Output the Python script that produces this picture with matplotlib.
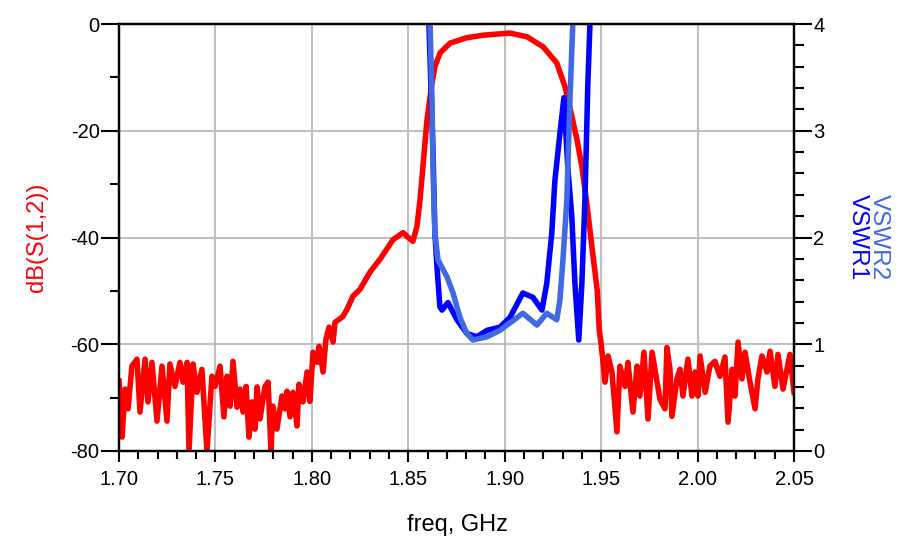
import matplotlib
matplotlib.use("Agg")
import matplotlib.pyplot as plt
from matplotlib.ticker import MultipleLocator

plt.rcParams['font.family'] = ['Liberation Sans', 'DejaVu Sans']

# ---- data: dB(S(1,2)) ----
s12_freq = [
    1.7000, 1.7016, 1.7031, 1.7047, 1.7067, 1.7093, 1.7109, 1.7135, 1.7150, 1.7171,
    1.7197, 1.7223, 1.7249, 1.7264, 1.7290, 1.7316, 1.7332, 1.7353, 1.7363, 1.7384,
    1.7404, 1.7430, 1.7456, 1.7482, 1.7498, 1.7524, 1.7544, 1.7560, 1.7576, 1.7591,
    1.7612, 1.7627, 1.7643, 1.7659, 1.7674, 1.7690, 1.7705, 1.7716, 1.7731, 1.7757,
    1.7773, 1.7788, 1.7798, 1.7819, 1.7845, 1.7861, 1.7871, 1.7887, 1.7902, 1.7923,
    1.7933, 1.7954, 1.7975, 1.7990, 1.8006, 1.8027, 1.8037, 1.8058, 1.8073, 1.8089,
    1.8110, 1.8120, 1.8161, 1.8182, 1.8213, 1.8250, 1.8301, 1.8353, 1.8421, 1.8473,
    1.8500, 1.8524, 1.8545, 1.8561, 1.8580, 1.8597, 1.8620, 1.8638, 1.8665, 1.8716,
    1.8800, 1.8888, 1.9027, 1.9116, 1.9200, 1.9270, 1.9313, 1.9340, 1.9375, 1.9400,
    1.9427, 1.9453, 1.9480, 1.9490, 1.9500, 1.9510, 1.9520, 1.9536, 1.9556, 1.9582,
    1.9597, 1.9624, 1.9639, 1.9665, 1.9686, 1.9701, 1.9722, 1.9743, 1.9764, 1.9779,
    1.9805, 1.9831, 1.9841, 1.9857, 1.9867, 1.9893, 1.9909, 1.9924, 1.9950, 1.9971,
    1.9987, 2.0002, 2.0013, 2.0039, 2.0064, 2.0090, 2.0116, 2.0142, 2.0158, 2.0179,
    2.0194, 2.0210, 2.0230, 2.0246, 2.0272, 2.0298, 2.0313, 2.0334, 2.0360, 2.0376,
    2.0401, 2.0417, 2.0443, 2.0479, 2.0500,
]
s12_db = [
    -66.9, -77.4, -68.4, -72.1, -64.1, -62.8, -72.7, -62.8, -70.8, -63.4,
    -74.4, -64.1, -74.4, -63.7, -67.9, -63.4, -67.1, -63.4, -80.0, -63.7,
    -69.0, -64.7, -80.0, -66.0, -67.9, -64.1, -73.6, -66.0, -71.6, -63.2,
    -71.8, -68.4, -72.7, -67.9, -77.4, -70.8, -75.9, -68.0, -74.0, -67.9,
    -67.1, -80.0, -71.6, -75.9, -69.7, -72.1, -68.8, -73.6, -69.0, -75.3,
    -67.5, -70.8, -65.2, -70.7, -61.5, -63.4, -60.4, -65.2, -59.1, -56.8,
    -59.6, -55.9, -54.8, -53.5, -51.0, -49.7, -46.5, -44.1, -40.4, -39.1,
    -40.0, -40.7, -37.9, -32.9, -25.0, -18.0, -11.8, -8.0, -5.4, -3.6,
    -2.6, -2.1, -1.7, -2.4, -4.3, -7.3, -11.8, -16.0, -21.7, -26.7,
    -34.0, -42.0, -50.0, -57.2, -60.0, -63.4, -67.1, -62.2, -65.2, -76.4,
    -64.1, -67.9, -63.4, -72.7, -64.1, -69.7, -61.5, -74.0, -61.5, -64.7,
    -70.3, -72.1, -60.6, -64.7, -73.5, -66.5, -64.7, -69.7, -62.8, -69.7,
    -65.2, -69.7, -62.2, -69.0, -64.1, -63.2, -66.0, -62.4, -74.6, -64.7,
    -69.7, -59.6, -66.5, -61.5, -67.1, -72.1, -66.5, -62.2, -65.2, -61.3,
    -67.9, -61.9, -68.4, -61.9, -69.0,
]

# ---- data: VSWR1 ----
vswr1_freq = [1.8590, 1.8607, 1.8628, 1.8638, 1.8649, 1.8664, 1.8675, 1.8706, 1.8752,
              1.8804, 1.8856, 1.8908, 1.8975, 1.9027, 1.9094, 1.9146, 1.9193, 1.9218,
              1.9244, 1.9260, 1.9286, 1.9307, 1.9327, 1.9348, 1.9364, 1.9384, 1.9400,
              1.9416, 1.9431, 1.9442, 1.9460]
vswr1 = [5.0, 4.0, 2.82, 2.04, 1.72, 1.35, 1.32, 1.39, 1.23,
         1.10, 1.07, 1.13, 1.16, 1.25, 1.48, 1.44, 1.32, 1.57,
         2.04, 2.53, 2.97, 3.31, 2.66, 2.19, 1.57, 1.04, 1.57,
         2.35, 3.44, 4.0, 5.5]

# ---- data: VSWR2 ----
vswr2_freq = [1.8590, 1.8613, 1.8623, 1.8628, 1.8638, 1.8654, 1.8701, 1.8732, 1.8768,
              1.8804, 1.8835, 1.8908, 1.8975, 1.9027, 1.9094, 1.9167, 1.9218, 1.9270,
              1.9286, 1.9302, 1.9322, 1.9338, 1.9353, 1.9370]
vswr2 = [5.0, 4.0, 3.28, 2.66, 2.04, 1.79, 1.63, 1.48, 1.25,
         1.10, 1.04, 1.07, 1.13, 1.20, 1.29, 1.18, 1.29, 1.23,
         1.41, 1.79, 2.35, 3.28, 4.0, 5.5]

x_ticks = [1.70, 1.75, 1.80, 1.85, 1.90, 1.95, 2.00, 2.05]
y_ticks = [-80, -60, -40, -20, 0]
y2_ticks = [0, 1, 2, 3, 4]

RED = '#FF0000'
BLUE1 = '#0000FF'
BLUE2 = '#4169E1'
GRID = '#C0C0C0'

fig = plt.figure(figsize=(9.18, 5.49), dpi=100)
ax = fig.add_axes([119 / 918, 1 - 451 / 549, 675 / 918, 427 / 549])
ax2 = ax.twinx()

ax.plot(s12_freq, s12_db, color=RED, lw=4.0)
ax2.plot(vswr1_freq, vswr1, color=BLUE1, lw=4.0)
ax2.plot(vswr2_freq, vswr2, color=BLUE2, lw=4.0)

ax.set_xlim(1.70, 2.05)
ax.set_ylim(-80, 0)
ax2.set_ylim(0, 4)

ax.set_xticks(x_ticks)
ax.set_xticklabels([f"{v:.2f}" for v in x_ticks])
ax.xaxis.set_minor_locator(MultipleLocator(0.01))
ax.set_yticks(y_ticks)
ax.set_yticklabels([str(v) for v in y_ticks])
ax.yaxis.set_minor_locator(MultipleLocator(10))
ax2.set_yticks(y2_ticks)
ax2.set_yticklabels([str(v) for v in y2_ticks])
ax2.yaxis.set_minor_locator(MultipleLocator(0.2))

ax.grid(True, which='major', color=GRID, lw=1.5)
ax.set_axisbelow(True)

for a in (ax, ax2):
    for s in a.spines.values():
        s.set_linewidth(1.6)
        s.set_color('black')

ax.tick_params(axis='x', which='major', direction='out', length=8, width=1.5,
               labelsize=14.5, pad=6, top=False)
ax.tick_params(axis='x', which='minor', direction='out', length=6, width=1.5, top=False)
ax.tick_params(axis='y', which='major', direction='out', length=13, width=1.5,
               labelsize=14.5, pad=1)
ax.tick_params(axis='y', which='minor', direction='out', length=6.5, width=1.5)
ax2.tick_params(axis='y', which='major', direction='out', length=13, width=1.5,
                labelsize=14.5, pad=1)
ax2.tick_params(axis='y', which='minor', direction='out', length=7.5, width=1.5)

fig.text(457 / 918, 1 - 525 / 549, 'freq, GHz', ha='center', va='center', fontsize=17)
fig.text(37 / 918, 1 - 237 / 549, 'dB(S(1,2))', ha='center', va='center',
         rotation=90, color=RED, fontsize=17)
fig.text(858 / 918, 1 - 237 / 549, 'VSWR1', ha='center', va='center',
         rotation=270, color=BLUE1, fontsize=17.5)
fig.text(879 / 918, 1 - 237 / 549, 'VSWR2', ha='center', va='center',
         rotation=270, color=BLUE2, fontsize=17.5)

fig.savefig('out.png', dpi=100)
